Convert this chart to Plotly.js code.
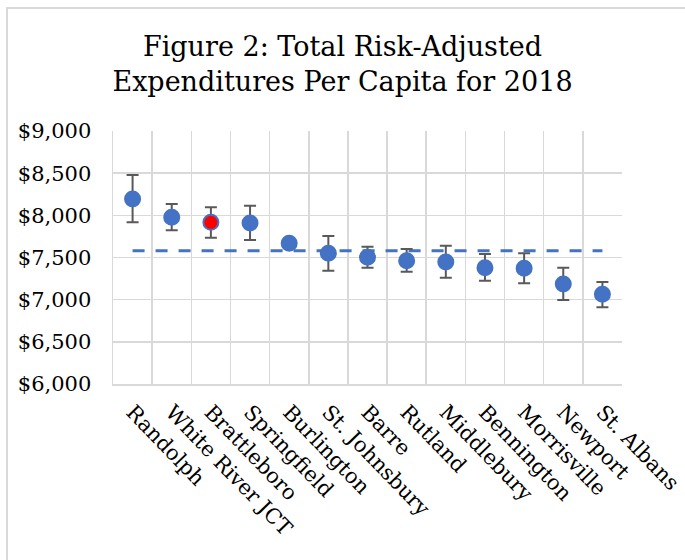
<!DOCTYPE html>
<html>
<head>
<meta charset="utf-8">
<script src="https://cdn.plot.ly/plotly-3.0.1.min.js"></script>
<style>
  html, body { margin: 0; padding: 0; background: #ffffff; }
  #wrap { position: relative; width: 685px; height: 560px; overflow: hidden; }
  #chart { position: absolute; left: 0; top: 0; width: 685px; height: 560px; }
  #frame { position: absolute; left: 6px; top: 7px; width: 700px; height: 600px;
           border-left: 2px solid #d9d9d9; border-top: 2px solid #d9d9d9; pointer-events: none; }
</style>
</head>
<body>
<div id="wrap">
  <div id="chart"></div>
  <div id="frame"></div>
</div>
<script>
const regions = ["Randolph", "White River JCT", "Brattleboro", "Springfield", "Burlington",
  "St. Johnsbury", "Barre", "Rutland", "Middlebury", "Bennington", "Morrisville", "Newport", "St. Albans"];
const expenditures = [8194, 7976, 7917, 7909, 7668, 7550, 7502, 7462, 7447, 7379, 7372, 7186, 7064];
const errorPlus  = [284, 158, 178, 205, 35, 205, 126, 139, 193, 162, 178, 193, 145];
const errorMinus = [277, 154, 182, 202, 35, 207, 123, 130, 187, 154, 178, 190, 155];
const averageLine = [7580, 7580, 7580, 7580, 7580, 7580, 7580, 7580, 7580, 7580, 7580, 7580, 7580];
const highlighted = "Brattleboro";
const yTickValues = [6000, 6500, 7000, 7500, 8000, 8500, 9000];
const yTickLabels = ["$6,000", "$6,500", "$7,000", "$7,500", "$8,000", "$8,500", "$9,000"];

const blue = "#4472C4";
const markerColors = regions.map(r => r === highlighted ? "#ff0000" : blue);

const traces = [
  {
    type: "scatter", mode: "lines", x: regions, y: averageLine,
    line: { color: blue, width: 3, dash: "12px,11px" },
    hoverinfo: "skip", showlegend: false
  },
  {
    type: "scatter", mode: "markers", x: regions, y: expenditures,
    marker: { size: 15, color: markerColors, line: { color: blue, width: 2 } },
    error_y: { type: "data", symmetric: false, array: errorPlus, arrayminus: errorMinus,
               color: "#595959", thickness: 2, width: 6 },
    showlegend: false
  }
];

const font = "DejaVu Serif, Georgia, serif";
const layout = {
  width: 685, height: 560,
  margin: { l: 113, r: 63, t: 131, b: 176 },
  paper_bgcolor: "#ffffff", plot_bgcolor: "#ffffff",
  font: { family: font, color: "#000000" },
  title: {
    text: "Figure 2: Total Risk-Adjusted<br>Expenditures Per Capita for 2018",
    font: { family: font, size: 27, color: "#000000" },
    x: 0.5, xanchor: "center", y: 0.9, yanchor: "top"
  },
  xaxis: {
    type: "category", range: [-0.5, 12.5], tickangle: 46,
    tickson: "boundaries", ticks: "", showgrid: true, gridcolor: "#d9d9d9", gridwidth: 1.5,
    showline: true, linecolor: "#d9d9d9", linewidth: 1.5,
    ticklabelstandoff: 6,
    tickfont: { family: font, size: 21, color: "#000000" },
    fixedrange: true, zeroline: false
  },
  yaxis: {
    range: [6000, 9000], tickvals: yTickValues, ticktext: yTickLabels,
    showgrid: true, gridcolor: "#d9d9d9", gridwidth: 1.5,
    showline: true, linecolor: "#d9d9d9", linewidth: 1.5,
    ticks: "", ticklabelstandoff: 16,
    tickfont: { family: font, size: 21, color: "#000000" },
    zeroline: false, fixedrange: true
  }
};

Plotly.newPlot("chart", traces, layout, { staticPlot: true, displayModeBar: false });
</script>
</body>
</html>
